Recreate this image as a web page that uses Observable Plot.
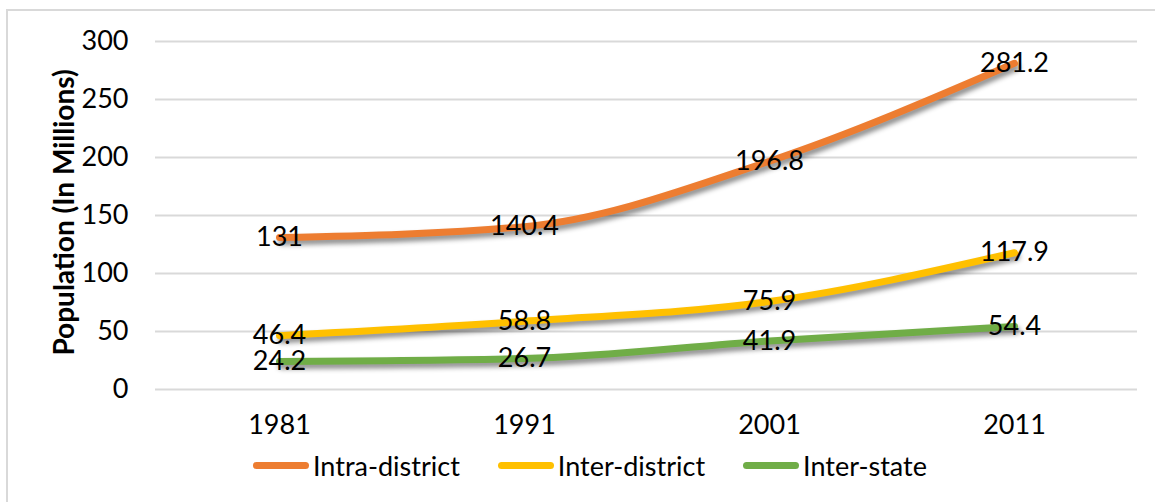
<!DOCTYPE html>
<html>
<head>
<meta charset="utf-8">
<script src="https://cdn.jsdelivr.net/npm/d3@7"></script>
<script src="https://cdn.jsdelivr.net/npm/@observablehq/plot@0.6"></script>
<style>
  html, body { margin: 0; padding: 0; background: #fff; }
  #wrap { position: relative; width: 1155px; height: 502px; overflow: hidden; background: #fff; }
  #frame { position: absolute; left: 6px; top: 9px; right: -10px; bottom: -10px; border-top: 2px solid #d9d9d9; border-left: 2px solid #d9d9d9; }
  #chart { position: absolute; left: 0; top: 0; }
  #chart svg g[aria-label="line"] { filter: drop-shadow(2px 4px 2.5px rgba(0,0,0,0.45)); }
  #legend { position: absolute; top: 449px; left: 253px; display: flex; align-items: center; font-family: Lato, "Open Sans", sans-serif; font-size: 27px; color: #000; }
  #legend .item { display: flex; align-items: center; margin-right: 38px; }
  #legend .sw { width: 56px; height: 7px; border-radius: 4px; margin-right: 4px; }
</style>
</head>
<body>
<div id="wrap">
  <div id="frame"></div>
  <div id="chart"></div>
  <div id="legend"></div>
</div>
<script>
const years = ["1981", "1991", "2001", "2011"];
const intraDistrict = [131, 140.4, 196.8, 281.2];
const interDistrict = [46.4, 58.8, 75.9, 117.9];
const interState = [24.2, 26.7, 41.9, 54.4];
const seriesNames = ["Intra-district", "Inter-district", "Inter-state"];
const seriesColors = ["#ED7D31", "#FFC000", "#70AD47"];
const yTicks = [0, 50, 100, 150, 200, 250, 300];

const allSeries = [intraDistrict, interDistrict, interState];
const data = [];
allSeries.forEach((vals, i) => {
  vals.forEach((v, j) => data.push({series: seriesNames[i], year: years[j], value: v}));
});

const plot = Plot.plot({
  width: 1155,
  height: 445,
  marginTop: 41,
  marginBottom: 56,
  marginLeft: 155,
  marginRight: 18,
  style: {fontFamily: "Lato, 'Open Sans', sans-serif", fontSize: "27px", color: "#000", background: "transparent"},
  x: {type: "point", domain: years, padding: 0.5, label: null},
  y: {domain: [0, 300], ticks: yTicks, label: null},
  color: {domain: seriesNames, range: seriesColors},
  marks: [
    Plot.gridY(yTicks, {stroke: "#d9d9d9", strokeOpacity: 1, strokeWidth: 2}),
    Plot.axisY({ticks: yTicks, tickSize: 0, tickPadding: 27, fontSize: 27, label: null}),
    Plot.axisX({tickSize: 0, tickPadding: 25, fontSize: 27, label: null}),
    Plot.line(data, {x: "year", y: "value", z: "series", stroke: "series", strokeWidth: 7, curve: "monotone-x"}),
    Plot.text(data, {x: "year", y: "value", text: d => String(d.value), fill: "#000", fontSize: 27}),
    Plot.text(["Population (In Millions)"], {frameAnchor: "left", textAnchor: "middle", dx: -90, dy: -3, rotate: -90, fontWeight: "bold", fontSize: 28, fill: "#000"})
  ]
});
document.getElementById("chart").appendChild(plot);

const legend = document.getElementById("legend");
seriesNames.forEach((name, i) => {
  const item = document.createElement("div");
  item.className = "item";
  const sw = document.createElement("div");
  sw.className = "sw";
  sw.style.background = seriesColors[i];
  const label = document.createElement("span");
  label.textContent = name;
  item.appendChild(sw);
  item.appendChild(label);
  legend.appendChild(item);
});
</script>
</body>
</html>
